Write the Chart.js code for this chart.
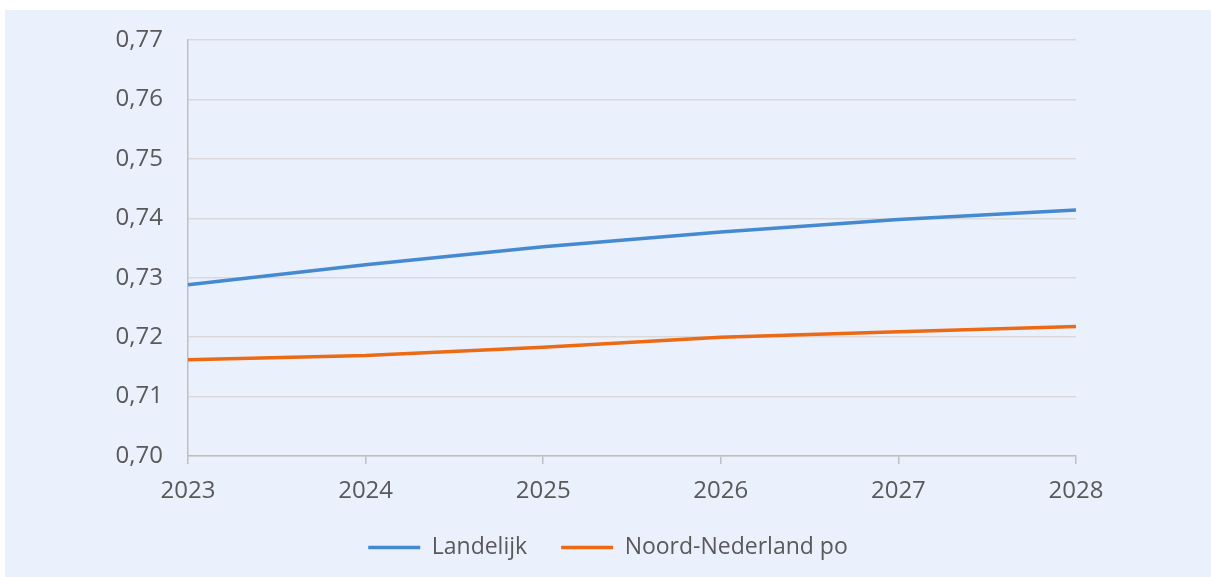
<!DOCTYPE html>
<html>
<head>
<meta charset="utf-8">
<script src="https://cdn.jsdelivr.net/npm/chart.js@4"></script>
<style>
    html, body {
        margin: 0;
        padding: 0;
        background: #ffffff;
        overflow: hidden;
    }
    .panel {
        position: absolute;
        left: 5px;
        top: 10px;
        width: 1206px;
        height: 567px;
        background: #eaf1fd;
    }
</style>
</head>
<body>
<div class="panel">
    <canvas id="trendChart" width="1206" height="567"></canvas>
</div>
<script>
// Years and series
const years = ['2023', '2024', '2025', '2026', '2027', '2028'];
const landelijk = [0.7288, 0.7322, 0.7352, 0.7377, 0.7398, 0.7414];
const noordNederland = [0.7162, 0.7169, 0.7183, 0.7200, 0.7209, 0.7218];
const yTicks = [0.70, 0.71, 0.72, 0.73, 0.74, 0.75, 0.76, 0.77];

const textColor = '#595959';
const fontFamily = '"Open Sans", "Noto Sans", sans-serif';

Chart.defaults.font.family = fontFamily;
Chart.defaults.font.size = 24;
Chart.defaults.color = textColor;

const ctx = document.getElementById('trendChart').getContext('2d');
const trendChart = new Chart(ctx, {
    type: 'line',
    data: {
        labels: years,
        datasets: [{
            label: 'Landelijk',
            data: landelijk,
            borderColor: '#4589d1',
            backgroundColor: '#4589d1',
            borderWidth: 3.5,
            pointRadius: 0,
            tension: 0
        }, {
            label: 'Noord-Nederland po',
            data: noordNederland,
            borderColor: '#ec6a14',
            backgroundColor: '#ec6a14',
            borderWidth: 3.5,
            pointRadius: 0,
            tension: 0
        }]
    },
    options: {
        responsive: false,
        animation: false,
        layout: {
            padding: { left: 0, top: 30, right: 0, bottom: 8 }
        },
        plugins: {
            legend: {
                position: 'bottom',
                labels: {
                    usePointStyle: true,
                    pointStyle: 'line',
                    pointStyleWidth: 52,
                    boxHeight: 23,
                    padding: 34,
                    color: textColor,
                    font: { size: 23 }
                }
            },
            tooltip: { enabled: false }
        },
        scales: {
            x: {
                offset: false,
                afterFit: scale => {
                    scale.height = 46;
                },
                grid: {
                    drawOnChartArea: false,
                    drawTicks: true,
                    tickLength: 8,
                    color: '#bfbfbf',
                    lineWidth: 1.5
                },
                border: { color: '#bfbfbf', width: 1.5 },
                ticks: { padding: 13, maxRotation: 0 }
            },
            y: {
                min: 0.70,
                max: 0.77,
                afterBuildTicks: scale => {
                    scale.ticks = yTicks.map(v => ({ value: v }));
                },
                afterFit: scale => {
                    scale.width = 183;
                    scale.paddingTop = 0;
                    scale.paddingBottom = 0;
                },
                grid: {
                    drawTicks: false,
                    color: '#d9d9d9',
                    lineWidth: 1.5
                },
                border: { color: '#bfbfbf', width: 1.5 },
                ticks: {
                    padding: 25,
                    callback: value => value.toFixed(2).replace('.', ',')
                }
            },
            // empty right-hand axis, only reserves the space right of the plot
            yRight: {
                position: 'right',
                afterFit: scale => {
                    scale.width = 135;
                    scale.paddingTop = 0;
                    scale.paddingBottom = 0;
                },
                grid: { display: false },
                border: { display: false },
                ticks: { display: false }
            }
        }
    }
});
</script>
</body>
</html>
